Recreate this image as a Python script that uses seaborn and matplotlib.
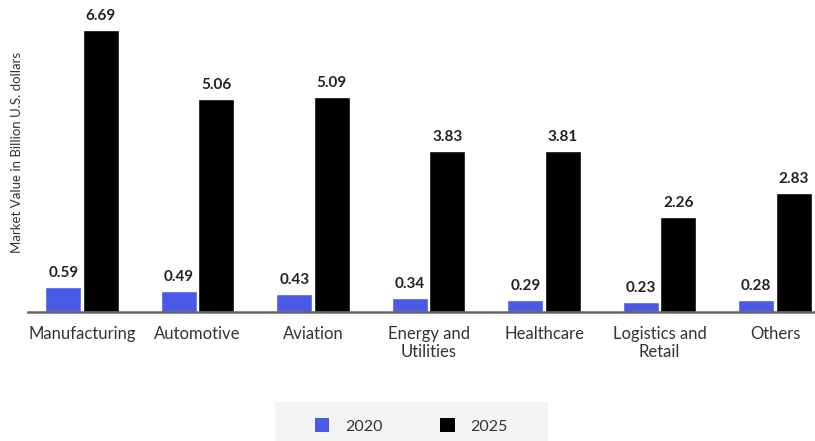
import matplotlib
matplotlib.use("Agg")
import matplotlib.pyplot as plt
import seaborn as sns
import pandas as pd
from matplotlib.patches import Patch, Rectangle

categories = ["Manufacturing", "Automotive", "Aviation", "Energy and\nUtilities",
              "Healthcare", "Logistics and\nRetail", "Others"]
values_2020 = [0.59, 0.49, 0.43, 0.34, 0.29, 0.23, 0.28]
values_2025 = [6.69, 5.06, 5.09, 3.83, 3.81, 2.26, 2.83]
years = ["2020", "2025"]
colors = ["#4a5ae6", "#000000"]

df = pd.DataFrame({
    "Industry": categories * 2,
    "Year": [years[0]] * len(categories) + [years[1]] * len(categories),
    "Value": values_2020 + values_2025,
})

sns.set_theme(style="white")
plt.rcParams['font.family'] = ['Lato', 'DejaVu Sans']

W, H = 815, 441
fig = plt.figure(figsize=(W / 100, H / 100), dpi=100)
ax = fig.add_axes([28 / W, 1 - 312 / H, 1 - 28 / W, (312 - 20) / H])

sns.barplot(data=df, x="Industry", y="Value", hue="Year", palette=colors,
            width=0.65, gap=0.05, ax=ax, legend=False, saturation=1)

for cont in ax.containers:
    ax.bar_label(cont, fmt="%.2f", padding=5, fontsize=11, fontweight="bold", color="#222222")

ax.set_xlim(-0.468, 6.346)
ax.set_ylim(0, 6.69 * 292 / 282)
ax.set_yticks([])
ax.set_xlabel("")
ax.set_ylabel("Market Value in Billion U.S. dollars", fontsize=9.5, color="#333333")
ax.yaxis.set_label_coords(-0.006, 0.548)
for s in ["top", "right", "left"]:
    ax.spines[s].set_visible(False)
ax.spines["bottom"].set_color("#666666")
ax.spines["bottom"].set_linewidth(1.8)
ax.tick_params(axis="x", length=0, pad=10, labelsize=12, labelcolor="#333333")

# legend background panel
fig.patches.append(Rectangle((275 / W, 0), (548 - 275) / W, (441 - 402) / H,
                             transform=fig.transFigure, facecolor="#f4f4f6",
                             edgecolor="none", zorder=0))
handles = [Patch(facecolor=c, edgecolor="none") for c in colors]
leg = fig.legend(handles, years, loc="center", bbox_to_anchor=(411.5 / W, 1 - 426 / H),
                 ncol=2, frameon=False, fontsize=11.5, handlelength=0.9, handleheight=0.9,
                 columnspacing=3.6, handletextpad=1.0, borderpad=0, borderaxespad=0)
for t in leg.get_texts():
    t.set_color("#333333")

fig.savefig("out.png", dpi=100)
